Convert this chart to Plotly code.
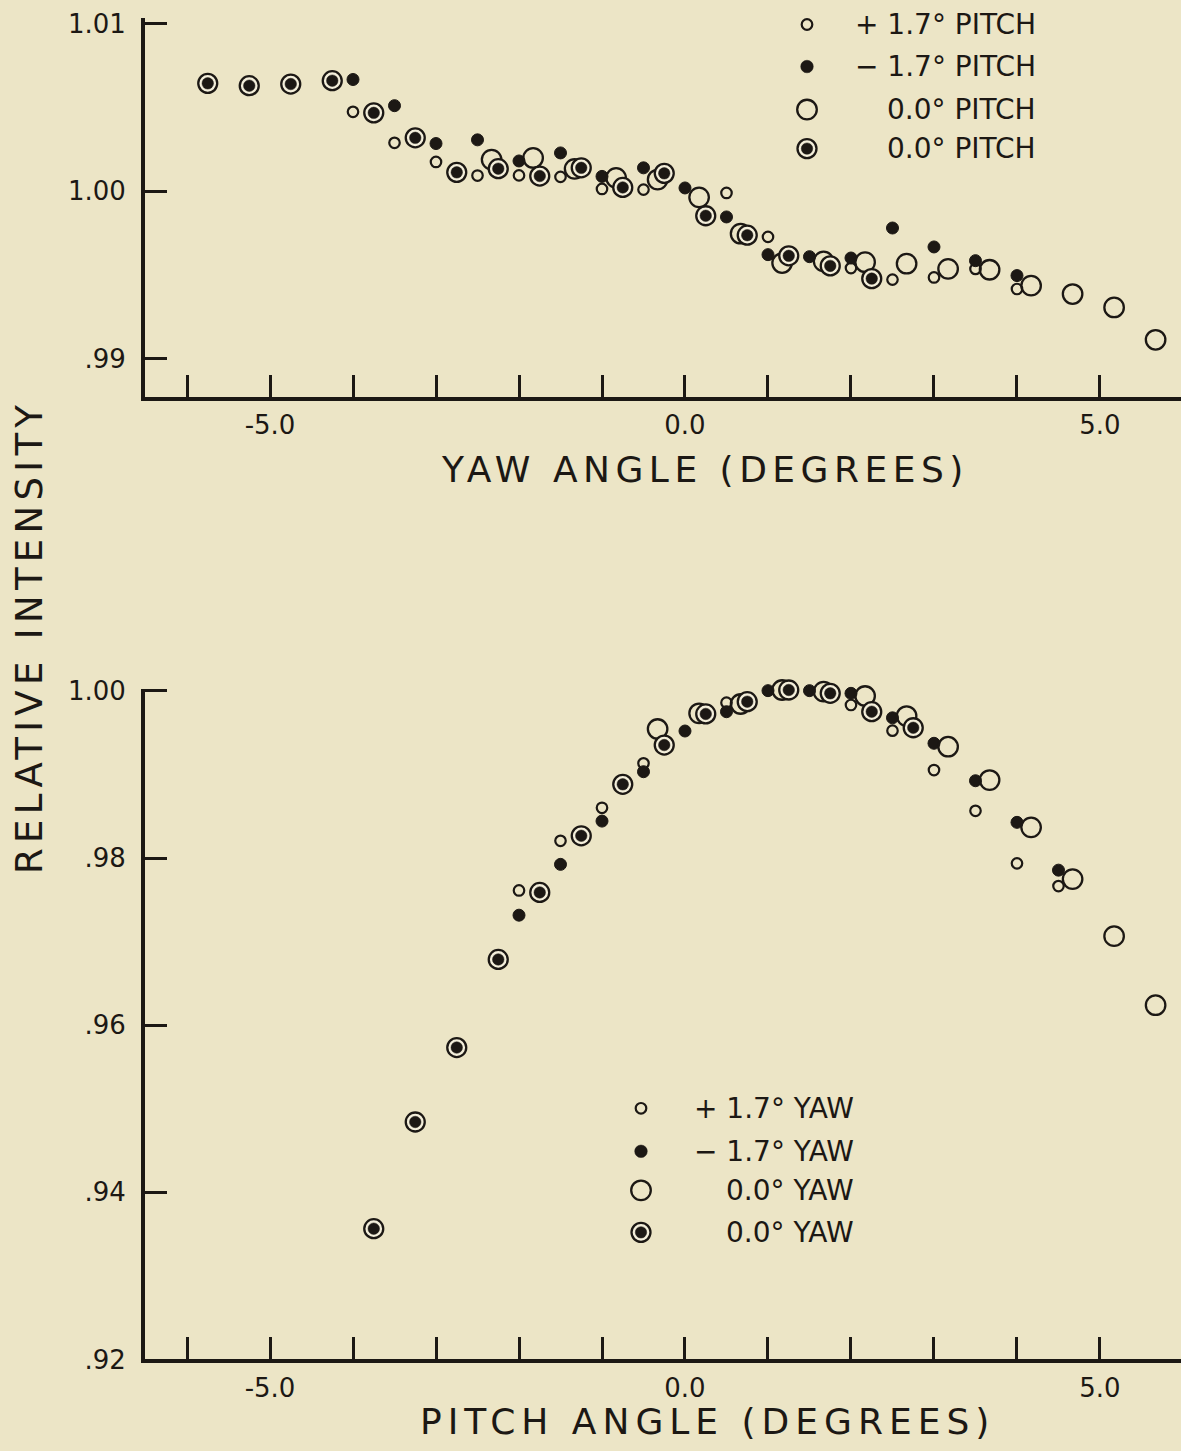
import plotly.graph_objects as go

# ---------------- data: top panel (yaw sweep) ----------------
yaw_p17_x = [-4.0, -3.5, -3.0, -2.5, -2.0, -1.5, -1.0, -0.5, 0.5, 1.0, 2.0, 2.5, 3.0, 3.5, 4.0]
yaw_p17_y = [1.00473, 1.00288, 1.00174, 1.00093, 1.00094, 1.00085, 1.00013, 1.00009, 0.99989,
             0.99727, 0.99541, 0.99472, 0.99485, 0.99536, 0.99416]

yaw_m17_x = [-4.0, -3.5, -3.0, -2.5, -2.0, -1.5, -1.0, -0.5, 0.0, 0.5, 1.0, 1.5, 2.0, 2.5, 3.0, 3.5, 4.0]
yaw_m17_y = [1.00666, 1.00510, 1.00284, 1.00306, 1.00180, 1.00228, 1.00088, 1.00139, 1.00019,
             0.99846, 0.99621, 0.99609, 0.99601, 0.99780, 0.99667, 0.99585, 0.99496]

yaw_0_x = [-2.33, -1.83, -1.33, -0.83, -0.33, 0.17, 0.67, 1.17, 1.67, 2.17, 2.67, 3.17, 3.67,
           4.17, 4.67, 5.17, 5.67]
yaw_0_y = [1.00188, 1.00198, 1.00133, 1.00079, 1.00069, 0.99963, 0.99746, 0.99571, 0.99581,
           0.99576, 0.99567, 0.99536, 0.99531, 0.99436, 0.99386, 0.99306, 0.99113]

yaw_0b_x = [-5.75, -5.25, -4.75, -4.25, -3.75, -3.25, -2.75, -2.25, -1.75, -1.25, -0.75, -0.25,
            0.25, 0.75, 1.25, 1.75, 2.25]
yaw_0b_y = [1.00643, 1.00629, 1.00639, 1.00659, 1.00467, 1.00318, 1.00112, 1.00134, 1.00090,
            1.00139, 1.00022, 1.00106, 0.99853, 0.99737, 0.99614, 0.99554, 0.99478]

# ---------------- data: bottom panel (pitch sweep) ----------------
pitch_p17_x = [-2.0, -1.5, -1.0, -0.5, 0.5, 2.0, 2.5, 3.0, 3.5, 4.0, 4.5]
pitch_p17_y = [0.97613, 0.98207, 0.98602, 0.99134, 0.99860, 0.99832, 0.99525, 0.99054, 0.98566,
               0.97937, 0.97665]

pitch_m17_x = [-2.0, -1.5, -1.0, -0.5, 0.0, 0.5, 1.0, 1.5, 2.0, 2.5, 3.0, 3.5, 4.0, 4.5]
pitch_m17_y = [0.97317, 0.97925, 0.98443, 0.99034, 0.99521, 0.99752, 1.00004, 1.00004, 0.99972,
               0.99679, 0.99374, 0.98926, 0.98428, 0.97856]

pitch_0_x = [-0.33, 0.17, 0.67, 1.17, 1.67, 2.17, 2.67, 3.17, 3.67, 4.17, 4.67, 5.17, 5.67]
pitch_0_y = [0.99545, 0.99733, 0.99844, 1.00012, 0.99992, 0.99940, 0.99700, 0.99333, 0.98934,
             0.98368, 0.97749, 0.97066, 0.96240]

pitch_0b_x = [-3.75, -3.25, -2.75, -2.25, -1.75, -1.25, -0.75, -0.25, 0.25, 0.75, 1.25, 1.75,
              2.25, 2.75]
pitch_0b_y = [0.93565, 0.94842, 0.95733, 0.96787, 0.97589, 0.98267, 0.98883, 0.99353, 0.99725,
              0.99872, 1.00012, 0.99972, 0.99752, 0.99560]

# ---------------- tick labels / texts ----------------
x_tickvals = [-6, -5, -4, -3, -2, -1, 0, 1, 2, 3, 4, 5]
x_ticktext = ["", "-5.0", "", "", "", "", "0.0", "", "", "", "", "5.0"]
top_y_tickvals = [0.99, 1.00, 1.01]
top_y_ticktext = [".99", "1.00", "1.01"]
bot_y_tickvals = [0.92, 0.94, 0.96, 0.98, 1.00]
bot_y_ticktext = [".92", ".94", ".96", ".98", "1.00"]

top_legend_labels = ["+ 1.7° PITCH", "− 1.7° PITCH", "0.0° PITCH", "0.0° PITCH"]
bot_legend_labels = ["+ 1.7° YAW", "− 1.7° YAW", "0.0° YAW", "0.0° YAW"]
top_xtitle = "YAW ANGLE (DEGREES)"
bot_xtitle = "PITCH ANGLE (DEGREES)"
ytitle = "RELATIVE INTENSITY"

# ---------------- style ----------------
W, H = 1181, 1451
BG = "#ECE5C6"
INK = "#1C1814"
RINGFILL = "#F4EFDB"
FONT = "DejaVu Sans"

fig = go.Figure()


def add_series(xs, ys, xa, ya, kind):
    if kind == "small_open":
        fig.add_trace(go.Scatter(x=xs, y=ys, xaxis=xa, yaxis=ya, mode="markers", cliponaxis=False,
                                 marker=dict(symbol="circle", size=10.5, color="rgba(0,0,0,0)",
                                             line=dict(color=INK, width=2.2)),
                                 showlegend=False, hoverinfo="x+y"))
    elif kind == "small_fill":
        fig.add_trace(go.Scatter(x=xs, y=ys, xaxis=xa, yaxis=ya, mode="markers", cliponaxis=False,
                                 marker=dict(symbol="circle", size=12, color=INK,
                                             line=dict(color=INK, width=1)),
                                 showlegend=False, hoverinfo="x+y"))
    elif kind == "big_open":
        fig.add_trace(go.Scatter(x=xs, y=ys, xaxis=xa, yaxis=ya, mode="markers", cliponaxis=False,
                                 marker=dict(symbol="circle", size=19.5, color="rgba(0,0,0,0)",
                                             line=dict(color=INK, width=2.3)),
                                 showlegend=False, hoverinfo="x+y"))
    elif kind == "bullseye":
        fig.add_trace(go.Scatter(x=xs, y=ys, xaxis=xa, yaxis=ya, mode="markers", cliponaxis=False,
                                 marker=dict(symbol="circle", size=19, color=RINGFILL,
                                             line=dict(color=INK, width=2.3)),
                                 showlegend=False, hoverinfo="x+y"))
        fig.add_trace(go.Scatter(x=xs, y=ys, xaxis=xa, yaxis=ya, mode="markers", cliponaxis=False,
                                 marker=dict(symbol="circle", size=11.5, color=INK,
                                             line=dict(color=INK, width=0.5)),
                                 showlegend=False, hoverinfo="skip"))


# top panel
add_series(yaw_p17_x, yaw_p17_y, "x", "y", "small_open")
add_series(yaw_m17_x, yaw_m17_y, "x", "y", "small_fill")
add_series(yaw_0_x, yaw_0_y, "x", "y", "big_open")
add_series(yaw_0b_x, yaw_0b_y, "x", "y", "bullseye")
# bottom panel
add_series(pitch_p17_x, pitch_p17_y, "x2", "y2", "small_open")
add_series(pitch_m17_x, pitch_m17_y, "x2", "y2", "small_fill")
add_series(pitch_0_x, pitch_0_y, "x2", "y2", "big_open")
add_series(pitch_0b_x, pitch_0b_y, "x2", "y2", "bullseye")

# ---------------- layout geometry (pixels, target picture frame) ----------------
PLOT_L = 145
TOP_T, TOP_B = 18, 397
BOT_T, BOT_B = 689, 1359

# vertical correction between page pixels and the photographed frame
V_OFF, V_SCALE = 13.5, 0.98


def page_y(yp):
    return (yp - V_OFF) / V_SCALE


def px(xp):
    return xp / W


def py(yp):
    return 1 - page_y(yp) / H


axis_common = dict(showline=True, linewidth=4, linecolor=INK, showgrid=False, zeroline=False,
                   ticks="inside", tickcolor=INK, tickwidth=2.5, ticklen=22,
                   tickfont=dict(family=FONT, size=26, color=INK))

x_lo = -6.506
x_hi = 5.976

fig.update_layout(
    width=W, height=H,
    margin=dict(l=0, r=0, t=0, b=0),
    paper_bgcolor=BG, plot_bgcolor=BG,
    showlegend=False,
    xaxis=dict(domain=[px(PLOT_L), 1], anchor="y", range=[x_lo, x_hi],
               tickmode="array", tickvals=x_tickvals, ticktext=x_ticktext,
               ticklabelstandoff=2, **axis_common),
    yaxis=dict(domain=[py(TOP_B), py(TOP_T)], anchor="x", range=[0.98773, 1.01036],
               tickmode="array", tickvals=top_y_tickvals, ticktext=top_y_ticktext,
               ticklabelstandoff=10, **axis_common),
    xaxis2=dict(domain=[px(PLOT_L), 1], anchor="y2", range=[x_lo, x_hi],
                tickmode="array", tickvals=x_tickvals, ticktext=x_ticktext,
                ticklabelstandoff=2, **axis_common),
    yaxis2=dict(domain=[py(BOT_B), py(BOT_T)], anchor="x2", range=[0.92, 1.00024],
                tickmode="array", tickvals=bot_y_tickvals, ticktext=bot_y_ticktext,
                ticklabelstandoff=10, **axis_common),
)

annotations = []
shapes = []


def spaced(t, ls):
    return '<span style="letter-spacing:%spx">%s</span>' % (ls, t)


# axis titles
annotations.append(dict(text=spaced(top_xtitle, 5.5), x=px(705), y=py(470), xref="paper", yref="paper",
                        xanchor="center", yanchor="middle", showarrow=False,
                        font=dict(family=FONT, size=36, color=INK)))
annotations.append(dict(text=spaced(bot_xtitle, 6), x=px(707), y=py(1421), xref="paper", yref="paper",
                        xanchor="center", yanchor="middle", showarrow=False,
                        font=dict(family=FONT, size=36, color=INK)))
annotations.append(dict(text=spaced(ytitle, 5.3), x=px(30), y=py(637), xref="paper", yref="paper",
                        xanchor="center", yanchor="middle", showarrow=False, textangle=-90,
                        font=dict(family=FONT, size=37, color=INK)))


def add_legend(labels, mx, rows, text_right):
    kinds = ["small_open", "small_fill", "big_open", "bullseye"]
    for lab, ry, kind in zip(labels, rows, kinds):
        annotations.append(dict(text=lab, x=px(text_right), y=py(ry), xref="paper", yref="paper",
                                xanchor="right", yanchor="middle", showarrow=False,
                                font=dict(family=FONT, size=28, color=INK)))
        base = dict(type="circle", xref="paper", yref="paper", xsizemode="pixel", ysizemode="pixel",
                    xanchor=px(mx), yanchor=py(ry), layer="above")
        if kind == "small_open":
            shapes.append(dict(base, x0=-5.3, x1=5.3, y0=-5.3, y1=5.3,
                               line=dict(color=INK, width=2.2), fillcolor="rgba(0,0,0,0)"))
        elif kind == "small_fill":
            shapes.append(dict(base, x0=-6.3, x1=6.3, y0=-6.3, y1=6.3,
                               line=dict(color=INK, width=0.5), fillcolor=INK))
        elif kind == "big_open":
            shapes.append(dict(base, x0=-9.8, x1=9.8, y0=-9.8, y1=9.8,
                               line=dict(color=INK, width=2.3), fillcolor="rgba(0,0,0,0)"))
        else:
            shapes.append(dict(base, x0=-9.5, x1=9.5, y0=-9.5, y1=9.5,
                               line=dict(color=INK, width=2.3), fillcolor=RINGFILL))
            shapes.append(dict(base, x0=-5.7, x1=5.7, y0=-5.7, y1=5.7,
                               line=dict(color=INK, width=0.5), fillcolor=INK))


add_legend(top_legend_labels, 807, [25, 67, 110, 149], 1038)
add_legend(bot_legend_labels, 641, [1108, 1151, 1190, 1232], 856)

fig.update_layout(annotations=annotations, shapes=shapes)

page_fix = (
    "document.documentElement.style.margin='0';"
    "document.documentElement.style.padding='0';"
    "document.documentElement.style.overflow='hidden';"
    "document.body.style.margin='0';"
    "document.body.style.padding='0';"
    "document.body.style.overflow='hidden';"
    "document.body.style.background='" + BG + "';"
    "var gd=document.getElementById('{plot_id}');"
    "gd.style.position='fixed';gd.style.left='0px';gd.style.top='0px';"
)

fig.write_html("out.html", config={"displayModeBar": False}, post_script=page_fix)
